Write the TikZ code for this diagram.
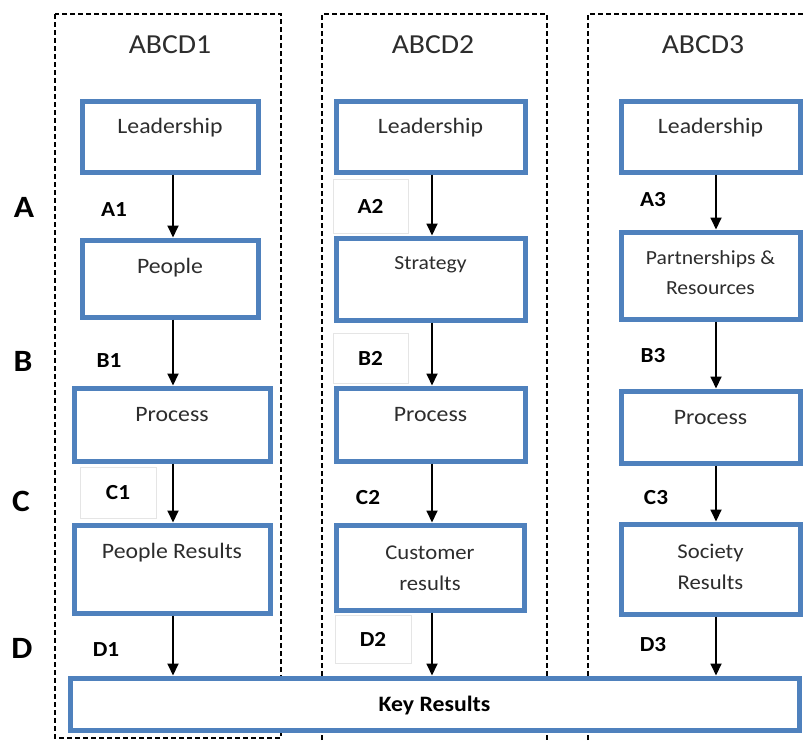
\documentclass[tikz,border=0pt]{standalone}
\usepackage{fontspec}
\setmainfont[FakeStretch=1.08]{Carlito}
\usetikzlibrary{arrows.meta}
\definecolor{boxblue}{RGB}{79,129,189}
\definecolor{txtgray}{RGB}{45,45,45}
\begin{document}
\begin{tikzpicture}[x=1pt,y=-1pt,
  bbox/.style={draw=boxblue, line width=5pt, fill=white, inner sep=0pt},
  btext/.style={font=\fontsize{22}{26}\selectfont, text=txtgray, inner sep=0pt, align=center},
  btwo/.style={font=\fontsize{21}{31}\selectfont, text=txtgray, inner sep=0pt, align=center},
  lab/.style={font=\bfseries\fontsize{21.5}{24}\selectfont, inner sep=0pt},
  lbox/.style={lab, draw=gray!20, line width=0.8pt},
  rowlab/.style={font=\bfseries\fontsize{31}{34}\selectfont, inner sep=0pt},
  ttl/.style={font=\fontsize{27.5}{30}\selectfont, text=txtgray, inner sep=0pt},
  arr/.style={-{Triangle[width=11pt,length=12pt]}, line width=1.8pt},
  dbox/.style={line width=1.3pt, dash pattern=on 5pt off 3pt}]
\useasboundingbox (0,0) rectangle (805,740);
% dashed column frames
\coordinate (f1a) at (55,14);  \coordinate (f1b) at (281,738);
\draw[dbox] (f1a) rectangle (f1b);
\coordinate (f2a) at (322,740); \coordinate (f2b) at (322,14);
\coordinate (f2c) at (547,14);  \coordinate (f2d) at (547,740);
\draw[dbox] (f2a) -- (f2b) -- (f2c) -- (f2d);
\coordinate (f3a) at (588,740); \coordinate (f3b) at (588,14);
\coordinate (f3c) at (805,14);
\draw[dbox] (f3a) -- (f3b) -- (f3c);
% titles
\node[ttl] (t1) at (170,45) {ABCD1};
\node[ttl] (t2) at (433,45) {ABCD2};
\node[ttl] (t3) at (703,45) {ABCD3};
% column 1
\node[bbox, minimum width=176pt, minimum height=71pt] (lead1) at (170,136.5) {};
\node[bbox, minimum width=176pt, minimum height=77pt] (peop1) at (170,278.5) {};
\node[bbox, minimum width=196pt, minimum height=73pt] (proc1) at (172,424.5) {};
\node[bbox, minimum width=196pt, minimum height=88pt] (pres1) at (172,569) {};
\node[btext] (lead1t) at (170,128) {Leadership};
\node[btext] (peop1t) at (170,268) {People};
\node[btext] (proc1t) at (172,415) {Process};
\node[btext] (pres1t) at (172,553) {People Results};
% column 2
\node[bbox, minimum width=189pt, minimum height=71pt] (lead2) at (430.5,136.5) {};
\node[bbox, minimum width=189pt, minimum height=82pt] (strat2) at (430.5,279) {};
\node[bbox, minimum width=189pt, minimum height=73pt] (proc2) at (430.5,424.5) {};
\node[bbox, minimum width=188pt, minimum height=85pt] (cust2) at (430,567.5) {};
\node[btext] (lead2t) at (430.5,128) {Leadership};
\node[btext, font=\fontsize{20}{24}\selectfont] (strat2t) at (430.5,265) {Strategy};
\node[btext] (proc2t) at (430.5,415) {Process};
\node[btwo] (cust2t) at (430,568) {Customer\\results};
% column 3
\node[bbox, minimum width=179pt, minimum height=71pt] (lead3) at (710.5,136.5) {};
\node[bbox, minimum width=179pt, minimum height=87pt] (part3) at (710.5,275.5) {};
\node[bbox, minimum width=179pt, minimum height=72pt] (proc3) at (710.5,427) {};
\node[bbox, minimum width=179pt, minimum height=90pt] (soc3) at (710.5,569) {};
\node[btext] (lead3t) at (710.5,128) {Leadership};
\node[btwo, font=\fontsize{20}{30}\selectfont] (part3t) at (710.5,273) {Partnerships \&\\Resources};
\node[btext] (proc3t) at (710.5,418) {Process};
\node[btwo] (soc3t) at (710.5,566.5) {Society\\Results};
% key results
\node[bbox, minimum width=729pt, minimum height=52pt] (key) at (434.5,704) {};
\node[btext, font=\bfseries\fontsize{22}{26}\selectfont, text=black] (keyt) at (434.5,705) {Key Results};
% arrows
\coordinate (x1) at (173,0);
\coordinate (x2) at (432,0);
\coordinate (x3) at (716,0);
\draw[arr] (lead1.south -| x1) -- (peop1.north -| x1);
\draw[arr] (peop1.south -| x1) -- (proc1.north -| x1);
\draw[arr] (proc1.south -| x1) -- (pres1.north -| x1);
\draw[arr] (pres1.south -| x1) -- (key.north -| x1);
\draw[arr] (lead2.south -| x2) -- (strat2.north -| x2);
\draw[arr] (strat2.south -| x2) -- (proc2.north -| x2);
\draw[arr] (proc2.south -| x2) -- (cust2.north -| x2);
\draw[arr] (cust2.south -| x2) -- (key.north -| x2);
\draw[arr] (lead3.south -| x3) -- (part3.north -| x3);
\draw[arr] (part3.south -| x3) -- (proc3.north -| x3);
\draw[arr] (proc3.south -| x3) -- (soc3.north -| x3);
\draw[arr] (soc3.south -| x3) -- (key.north -| x3);
% row letters
\node[rowlab] (ra) at (24,207) {A};
\node[rowlab] (rb) at (23,361) {B};
\node[rowlab] (rc) at (21,501) {C};
\node[rowlab] (rd) at (22,648) {D};
% flow labels
\node[lab] (a1) at (114,210) {A1};
\node[lab] (b1) at (109,361) {B1};
\node[lbox, minimum width=76pt, minimum height=51pt] (c1) at (118,492.5) {C1};
\node[lab] (d1) at (106,650) {D1};
\node[lbox, minimum width=75pt, minimum height=54pt] (a2) at (370.5,206) {A2};
\node[lbox, minimum width=75pt, minimum height=50pt] (b2) at (370.5,358) {B2};
\node[lab] (c2) at (368,498) {C2};
\node[lbox, minimum width=76pt, minimum height=48pt] (d2) at (373,639) {D2};
\node[lab] (a3) at (653,200) {A3};
\node[lab] (b3) at (653,356) {B3};
\node[lab] (c3) at (656,498) {C3};
\node[lab] (d3) at (653,645) {D3};
\end{tikzpicture}
\end{document}
